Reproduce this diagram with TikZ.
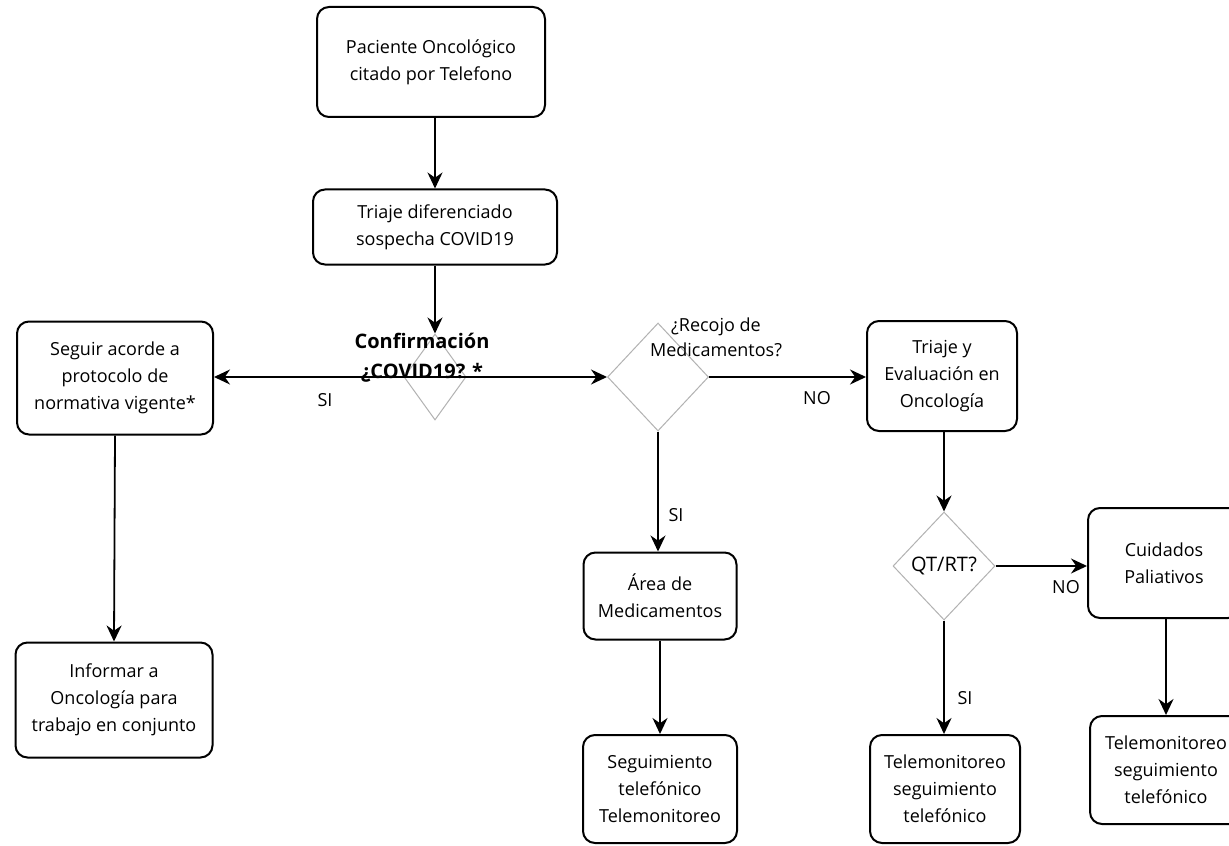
\documentclass[tikz,border=0pt]{standalone}
\usepackage{fontspec}
\setmainfont{Open Sans}
\usetikzlibrary{arrows.meta,positioning,shapes.geometric}

\tikzset{
  caja/.style={draw, line width=1pt, rounded corners=6pt, align=center,
    font=\fontsize{9}{13.5}\selectfont, inner sep=0pt},
  rombo/.style={draw=gray!60, line width=0.5pt, diamond, inner sep=0pt},
  flecha/.style={-{Stealth[length=8pt,width=7.5pt]}, line width=0.9pt},
  etiq/.style={font=\fontsize{9}{11}\selectfont},
}

\begin{document}
\begin{tikzpicture}[x=0.5pt, y=-0.5pt]
    \useasboundingbox[fill=white] (0,0) rectangle (1229,845);

    % columna central
    \node[caja, minimum width=114pt, minimum height=55pt] (pac) at (431,62)
      {Paciente Oncológico\\citado por Telefono};
    \node[caja, minimum width=122pt, minimum height=37.5pt] (tri) at (435,227)
      {Triaje diferenciado\\sospecha COVID19};
    \node[rombo, minimum width=31pt, minimum height=43pt] (d1) at (435,377) {};
    \node[align=center, font=\fontsize{10}{15}\bfseries] (d1txt) at (422,358)
      {Confirmación\\¿COVID19? *};

    % rama izquierda
    \node[caja, minimum width=98pt, minimum height=56.5pt] (seg) at (115,378)
      {Seguir acorde a\\protocolo de\\normativa vigente*};
    \node[caja, minimum width=98.5pt, minimum height=57.5pt] (inf) at (114,700)
      {Informar a\\Oncología para\\trabajo en conjunto};

    % medicamentos
    \node[rombo, minimum width=50.5pt, minimum height=54pt] (d2) at (658,377) {};
    \node[align=center, font=\fontsize{9}{12.5}\selectfont] (d2txt) at (716,337)
      {¿Recojo de\\Medicamentos?};
    \node[caja, minimum width=76.5pt, minimum height=43.5pt] (area) at (660,596)
      {Área de\\Medicamentos};
    \node[caja, minimum width=77pt, minimum height=54pt] (segtel) at (660,789)
      {Seguimiento\\telefónico\\Telemonitoreo};

    % oncologia
    \node[caja, minimum width=75pt, minimum height=55pt] (eval) at (942,376)
      {Triaje y\\Evaluación en\\Oncología};
    \node[rombo, minimum width=51pt, minimum height=54pt] (d3) at (944,566) {QT/RT?};
    \node[caja, minimum width=76pt, minimum height=55pt] (cuid) at (1164,563)
      {Cuidados\\Paliativos};
    \node[caja, minimum width=75pt, minimum height=54pt] (telsi) at (945,789)
      {Telemonitoreo\\seguimiento\\telefónico};
    \node[caja, minimum width=76pt, minimum height=54pt] (telno) at (1166,770)
      {Telemonitoreo\\seguimiento\\telefónico};

    % conectores
    \draw[flecha] (tri.north |- pac.south) -- (tri.north);
    \draw[flecha] (d1.north |- tri.south) -- (d1.north);
    \draw[flecha] (d1.center) -- (seg.east |- d1.center);
    \draw[flecha] (d1.center) -- (d2.west);
    \draw[flecha] (seg.south) -- (inf.north);
    \draw[flecha] (d2.east) -- (eval.west |- d2.east);
    \draw[flecha] (d2.south) -- (d2.south |- area.north);
    \draw[flecha] (area.south -| segtel.north) -- (segtel.north);
    \draw[flecha] (d3.north |- eval.south) -- (d3.north);
    \draw[flecha] (d3.east) -- (cuid.west |- d3.east);
    \draw[flecha] (d3.south) -- (d3.south |- telsi.north);
    \draw[flecha] (telno.north |- cuid.south) -- (telno.north);

    % etiquetas
    \node[etiq] (si1) at (325,400) {SI};
    \node[etiq] (no1) at (817,398) {NO};
    \node[etiq] (si2) at (676,515) {SI};
    \node[etiq] (no2) at (1066,587) {NO};
    \node[etiq] (si3) at (965,698) {SI};
\end{tikzpicture}
\end{document}
